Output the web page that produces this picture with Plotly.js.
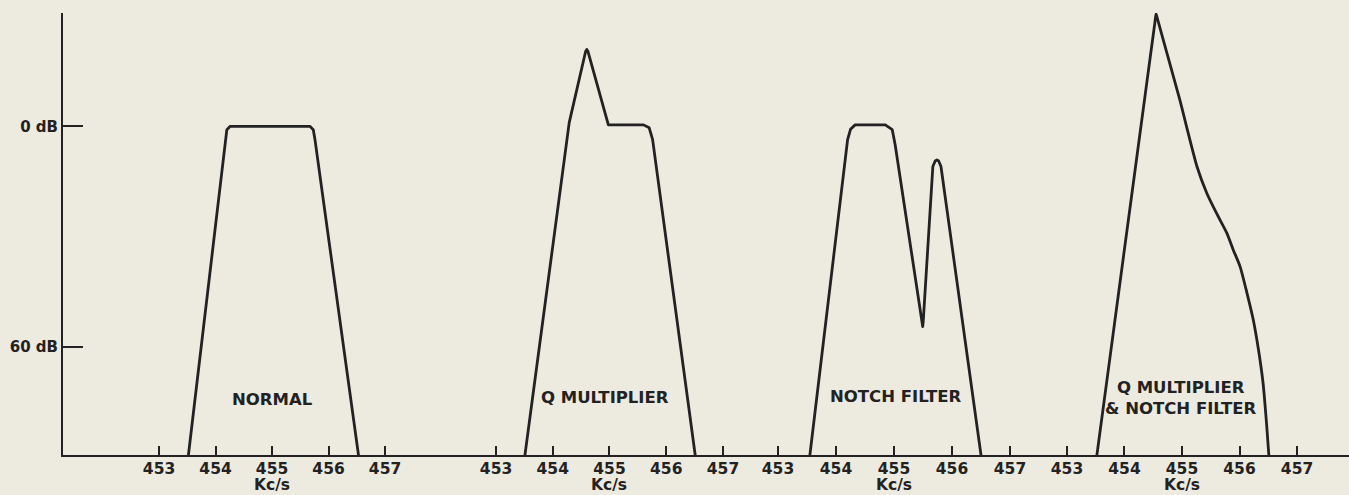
<!DOCTYPE html>
<html>
<head>
<meta charset="utf-8">
<script src="https://cdn.plot.ly/plotly-3.0.1.min.js"></script>
<style>
  html, body { margin: 0; padding: 0; background: #edeae0; }
  #chart { width: 1349px; height: 495px; }
  path.js-line { stroke-linejoin: round !important; stroke-linecap: round !important; }
</style>
</head>
<body>
<div id="chart"></div>
<script>
// ---- data (frequency in Kc/s, attenuation in dB; 0 dB at top) ----
const tickFreqs = [453, 454, 455, 456, 457];
const tickLabels = ['453', '454', '455', '456', '457'];
const dbTicks = [0, 60];
const dbTickLabels = ['0 dB', '60 dB'];
const panelTitles = ['NORMAL', 'Q MULTIPLIER', 'NOTCH FILTER', 'Q MULTIPLIER<br>& NOTCH FILTER'];
const axisUnit = 'Kc/s';

const freqNormal = [453.52, 454.17, 454.2, 454.26, 455.67, 455.73, 455.76, 456.53];
const attnNormal = [89.3, 3.6, 0.9, 0, 0, 0.9, 3.6, 89.3];

const freqQ = [453.51, 454.29, 454.58, 454.6, 454.62, 454.98, 455.6, 455.7, 455.76, 456.51];
const attnQ = [89.3, -1.0, -20.4, -20.9, -20.4, -0.4, -0.4, 0.4, 3.6, 89.3];

const freqNotch = [453.55, 454.2, 454.25, 454.33, 454.85, 454.97, 455.02, 455.48, 455.495, 455.505, 455.67, 455.71, 455.74, 455.77, 455.81, 456.5];
const attnNotch = [89.3, 3.6, 0.8, -0.4, -0.4, 0.9, 5.0, 52.8, 54.4, 52.8, 10.9, 9.4, 9.1, 9.4, 10.9, 89.3];

const freqQNotch = [453.52, 453.75, 454.0, 454.25, 454.45, 454.53, 454.548, 454.57, 454.75, 454.96, 455.26, 455.43, 455.6, 455.78, 455.89, 456.01, 456.13, 456.24, 456.33, 456.41, 456.47, 456.51];
const attnQNotch = [89.3, 62.5, 33.3, 4.2, -19.1, -28.4, -30.6, -29.4, -19.2, -7.3, 10.9, 18.1, 23.6, 29.0, 33.5, 38.1, 45.3, 52.6, 60.7, 69.8, 80.7, 89.3];

// ---- styling ----
const INK = '#222222';
const BG = '#edeae0';
const FONT = 'DejaVu Sans';

const series = [
  [freqNormal, attnNormal, 'linear'],
  [freqQ, attnQ, 'linear'],
  [freqNotch, attnNotch, 'linear'],
  [freqQNotch, attnQNotch, 'spline']
];
const axisIds = ['x', 'x2', 'x3', 'x4'];
const layoutKeys = ['xaxis', 'xaxis2', 'xaxis3', 'xaxis4'];
const domains = [[0, 0.29316], [0.29316, 0.53421], [0.53421, 0.75817], [0.75817, 1]];
const ranges = [[451.30, 457.973], [452.013, 457.476], [452.517, 457.483], [452.496, 457.904]];
const titlePos = [[455, 74.3], [454.92, 73.8], [455.03, 73.5], [454.98, 73.7]];

const traces = series.map((s, i) => ({
  type: 'scatter', mode: 'lines',
  x: s[0], y: s[1],
  xaxis: axisIds[i], yaxis: 'y',
  line: { color: INK, width: 2.8, shape: s[2], smoothing: 0.6 },
  hoverinfo: 'skip', showlegend: false
}));

const layout = {
  width: 1349, height: 495,
  margin: { l: 63, r: 0, t: 13, b: 40, pad: 0 },
  paper_bgcolor: BG, plot_bgcolor: BG,
  font: { family: FONT, color: INK, size: 16 },
  showlegend: false,
  yaxis: {
    range: [89.3, -30.8], domain: [0, 1],
    tickmode: 'array', tickvals: dbTicks, ticktext: dbTickLabels,
    ticks: 'inside', ticklen: 20, tickwidth: 2, tickcolor: INK,
    showline: true, linewidth: 2, linecolor: INK,
    showgrid: false, zeroline: false,
    tickfont: { family: FONT, size: 15, color: INK, weight: 'bold' },
    fixedrange: true
  },
  annotations: []
};

layoutKeys.forEach((k, i) => {
  layout[k] = {
    domain: domains[i], range: ranges[i], anchor: 'y',
    tickmode: 'array', tickvals: tickFreqs, ticktext: tickLabels,
    ticks: 'inside', ticklen: 9, tickwidth: 2, tickcolor: INK,
    showline: true, linewidth: 2, linecolor: INK,
    showgrid: false, zeroline: false,
    ticklabelstandoff: -2,
    tickfont: { family: FONT, size: 15.5, color: INK, weight: 'bold' },
    fixedrange: true
  };
  layout.annotations.push({
    xref: axisIds[i], yref: 'y', x: titlePos[i][0], y: titlePos[i][1],
    text: panelTitles[i], showarrow: false,
    font: { family: FONT, size: 16.5, color: INK, weight: 'bold' },
    xanchor: 'center', yanchor: 'middle', align: 'center'
  });
  layout.annotations.push({
    xref: axisIds[i], yref: 'paper', x: 455, y: -0.0905,
    text: axisUnit, showarrow: false,
    font: { family: FONT, size: 15.5, color: INK, weight: 'bold' },
    xanchor: 'center', yanchor: 'bottom', borderpad: 0
  });
});

Plotly.newPlot('chart', traces, layout, { staticPlot: true, displayModeBar: false });
</script>
</body>
</html>
